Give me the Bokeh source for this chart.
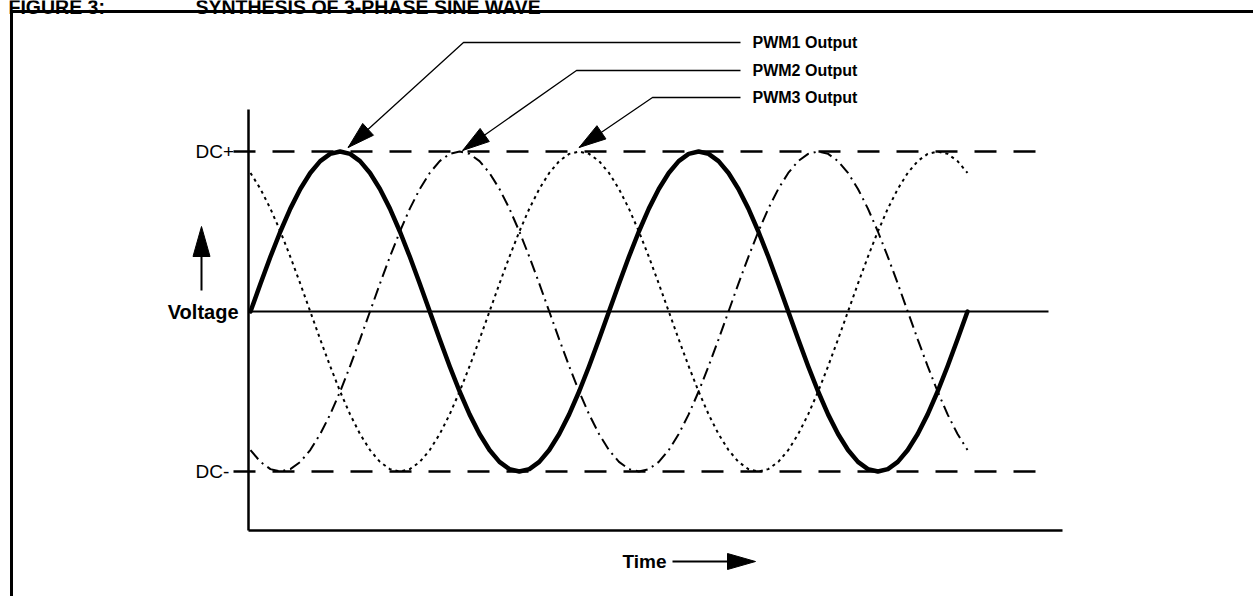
from bokeh.plotting import figure
from bokeh.models import Range1d
from bokeh.embed import file_html
from bokeh.resources import INLINE
from bokeh.core.properties import value
import math

# ---------------- data ----------------
phase_deg = list(range(0, 721, 10))          # time axis, electrical degrees
pwm1 = [0, .174, .342, .5, .643, .766, .866, .94, .985, 1, .985, .94, .866, .766, .643, .5, .342, .174,
        0, -.174, -.342, -.5, -.643, -.766, -.866, -.94, -.985, -1, -.985, -.94, -.866, -.766, -.643, -.5, -.342, -.174,
        0, .174, .342, .5, .643, .766, .866, .94, .985, 1, .985, .94, .866, .766, .643, .5, .342, .174,
        0, -.174, -.342, -.5, -.643, -.766, -.866, -.94, -.985, -1, -.985, -.94, -.866, -.766, -.643, -.5, -.342, -.174,
        0]
pwm2 = [-.866, -.94, -.985, -1, -.985, -.94, -.866, -.766, -.643, -.5, -.342, -.174,
        0, .174, .342, .5, .643, .766, .866, .94, .985, 1, .985, .94, .866, .766, .643, .5, .342, .174,
        0, -.174, -.342, -.5, -.643, -.766,
        -.866, -.94, -.985, -1, -.985, -.94, -.866, -.766, -.643, -.5, -.342, -.174,
        0, .174, .342, .5, .643, .766, .866, .94, .985, 1, .985, .94, .866, .766, .643, .5, .342, .174,
        0, -.174, -.342, -.5, -.643, -.766,
        -.866]
pwm3 = [.866, .766, .643, .5, .342, .174,
        0, -.174, -.342, -.5, -.643, -.766, -.866, -.94, -.985, -1, -.985, -.94, -.866, -.766, -.643, -.5, -.342, -.174,
        0, .174, .342, .5, .643, .766, .866, .94, .985, 1, .985, .94,
        .866, .766, .643, .5, .342, .174,
        0, -.174, -.342, -.5, -.643, -.766, -.866, -.94, -.985, -1, -.985, -.94, -.866, -.766, -.643, -.5, -.342, -.174,
        0, .174, .342, .5, .643, .766, .866, .94, .985, 1, .985, .94,
        .866]
dc_levels = [1.0, -1.0]
dc_labels = ["DC+", "DC-"]
series_labels = ["PWM1 Output", "PWM2 Output", "PWM3 Output"]
first_peak_deg = [90, 210, 330]
title_parts = ["FIGURE 3:", "SYNTHESIS OF 3-PHASE SINE WAVE"]

# ---------------- layout (pixels of the picture) ----------------
W, H = 1253, 596
OFF = 0
PX0, KX = 250.0, 717.0 / 720.0   # px of phase 0, px per degree
PY0, KY = 311.0, 160.0           # px of 0 V, px per unit voltage


def dx(px):
    return (px - PX0) / KX


def dy(py):
    return (PY0 - py) / KY


def to_px(x, y):
    return PX0 + x * KX, PY0 - y * KY


p = figure(width=W, height=H, output_backend="svg", toolbar_location=None,
           x_range=Range1d(dx(OFF), dx(OFF + W)), y_range=Range1d(dy(OFF + H), dy(OFF)),
           min_border=0, x_axis_type=None, y_axis_type=None,
           outline_line_color=None, background_fill_color="white",
           border_fill_color="white")
p.grid.visible = False

BLACK = "black"
FONT = value("Liberation Sans")

# outer frame (top and left)
p.segment(x0=[dx(9.5), dx(11)], y0=[dy(11), dy(9.5)], x1=[dx(1400), dx(11)], y1=[dy(11), dy(700)],
          line_color=BLACK, line_width=3)

# title (cut by the top edge)
p.text(x=[dx(8), dx(195)], y=[dy(6.5), dy(6.5)], text=title_parts, text_font=FONT,
       text_font_style="bold", text_font_size="19.5px", text_baseline="alphabetic",
       text_align="left", text_color=BLACK)

# axes
p.segment(x0=[dx(248), dx(248)], y0=[dy(109), dy(530)], x1=[dx(248), dx(1062)], y1=[dy(530), dy(530)],
          line_color=BLACK, line_width=2.5)
# zero-volt line
p.segment(x0=[dx(248)], y0=[0], x1=[dx(1048)], y1=[0], line_color=BLACK, line_width=2)

# DC+ / DC- dashed levels
for lvl in dc_levels:
    p.line([dx(233), dx(1051)], [lvl, lvl], line_color=BLACK, line_width=2.5, line_dash="22 17")
p.text(x=[dx(195)] * 2, y=dc_levels, text=dc_labels, text_font=FONT, text_font_size="19px",
       text_baseline="middle", text_align="left", text_color=BLACK)

# the three phase outputs
p.line(phase_deg, pwm1, line_color=BLACK, line_width=4.5, line_join="round", line_cap="round")
p.line(phase_deg, pwm2, line_color=BLACK, line_width=2, line_dash="12 5 2 5")
p.line(phase_deg, pwm3, line_color=BLACK, line_width=2, line_dash="3 4")


def head(tip, frm, length=27.0, half=8.0):
    tx, ty = tip
    ux, uy = frm[0] - tx, frm[1] - ty
    n = math.hypot(ux, uy)
    ux, uy = ux / n, uy / n
    bx, by = tx + ux * length, ty + uy * length
    px, py = -uy, ux
    pts = [(tx, ty), (bx + px * half, by + py * half), (bx - px * half, by - py * half)]
    return [dx(a) for a, _ in pts], [dy(b) for _, b in pts]


# leader lines, arrowheads and labels
label_y = [42, 70, 97]
elbow_x = [463, 576, 652]
tip_shift = [(8, -4), (3, -1), (0, -4)]
hx, hy = [], []
for i, lab in enumerate(series_labels):
    pkx, pky = to_px(first_peak_deg[i], 1.0)
    tip = (pkx + tip_shift[i][0], pky + tip_shift[i][1])
    elbow = (elbow_x[i], label_y[i])
    p.line([dx(740), dx(elbow[0]), dx(tip[0])], [dy(label_y[i]), dy(label_y[i]), dy(tip[1])],
           line_color=BLACK, line_width=1.3)
    xs, ys = head(tip, elbow)
    hx.append(xs)
    hy.append(ys)
p.patches(hx, hy, fill_color=BLACK, line_color=BLACK, line_width=1)
p.text(x=[dx(752)] * 3, y=[dy(v) for v in label_y], text=series_labels, text_font=FONT,
       text_font_style="bold", text_font_size="16px", text_baseline="middle",
       text_align="left", text_color=BLACK)

# Voltage label with up arrow
p.text(x=[dx(238)], y=[0], text=["Voltage"], text_font=FONT, text_font_style="bold",
       text_font_size="20px", text_baseline="middle", text_align="right", text_color=BLACK)
p.segment(x0=[dx(201)], y0=[dy(290)], x1=[dx(201)], y1=[dy(250)], line_color=BLACK, line_width=2)
ax, ay = head((201, 226), (201, 290), length=30, half=8.5)
p.patch(ax, ay, fill_color=BLACK, line_color=BLACK, line_width=1)

# Time label with right arrow
p.text(x=[dx(622)], y=[dy(561)], text=["Time"], text_font=FONT, text_font_style="bold",
       text_font_size="19px", text_baseline="middle", text_align="left", text_color=BLACK)
p.segment(x0=[dx(672)], y0=[dy(561)], x1=[dx(732)], y1=[dy(561)], line_color=BLACK, line_width=2)
tx_, ty_ = head((755, 561), (672, 561), length=28, half=8)
p.patch(tx_, ty_, fill_color=BLACK, line_color=BLACK, line_width=1)

open("out.html", "w").write(file_html(p, INLINE))
